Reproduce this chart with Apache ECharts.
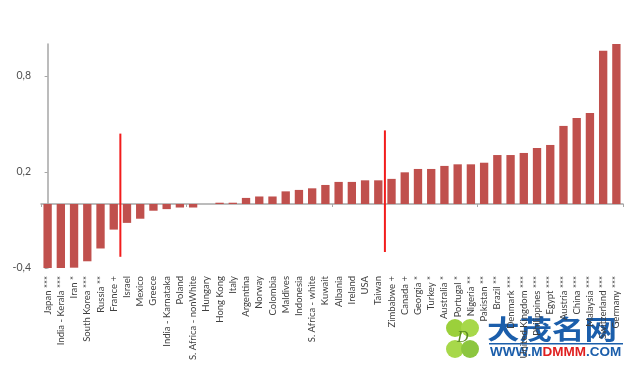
<!DOCTYPE html>
<html>
<head>
<meta charset="utf-8">
<script src="https://cdn.jsdelivr.net/npm/echarts@6/dist/echarts.min.js"></script>
<style>
html,body{margin:0;padding:0;background:#fff;}
#c{width:632px;height:375px;}
</style>
</head>
<body>
<div id="c"></div>
<script>
var categories = ['Japan ***','India - Kerala ***','Iran *','South Korea ***','Russia **','France +','Israel','Mexico','Greece','India - Karnataka','Poland','S. Africa - nonWhite','Hungary','Hong Kong','Italy','Argentina','Norway','Colombia','Maldives','Indonesia','S. Africa - white','Kuwait','Albania','Ireland','USA','Taiwan','Zimbabwe +','Canada +','Georgia *','Turkey *','Australia *','Portugal *','Nigeria **','Pakistan **','Brazil **','Denmark ***','United Kingdom ***','Philippines ***','Egypt ***','Austria ***','China ***','Malaysia ***','Switzerland ***','Germany ***'];
var values = [-0.40,-0.40,-0.398,-0.358,-0.278,-0.16,-0.118,-0.092,-0.042,-0.032,-0.022,-0.022,0.0,0.008,0.008,0.038,0.047,0.047,0.079,0.088,0.098,0.119,0.138,0.138,0.148,0.148,0.157,0.198,0.219,0.219,0.238,0.248,0.248,0.258,0.306,0.306,0.319,0.35,0.369,0.488,0.538,0.569,0.958,1.0];
var yTicks = [-0.4, 0.2, 0.8];
var dividerAfter = ['France +', 'Taiwan'];
var dividerTop = [0.44, 0.46];
var dividerBottom = [-0.33, -0.30];

var chart = echarts.init(document.getElementById('c'), null, {renderer:'canvas'});
var FONT = 'Lato, "Liberation Sans", sans-serif';
var axisGray = '#a6a6a6';

var dividerSeries = dividerAfter.map(function(name, i){
  var pos = categories.indexOf(name) + 0.5;
  return {
    type:'line', xAxisIndex:2, yAxisIndex:0, symbol:'none', silent:true,
    lineStyle:{color:'#f21c1c', width:2},
    data:[[pos, dividerTop[i]],[pos, dividerBottom[i]]],
    z:5
  };
});

chart.setOption({
  animation:false,
  backgroundColor:'#ffffff',
  grid:{left:41, right:9, top:44, bottom:107, containLabel:false},
  xAxis:[
    {type:'category', data:categories, position:'bottom',
     axisLine:{onZero:true, lineStyle:{color:axisGray, width:1.5}},
     axisTick:{show:true, length:3, lineStyle:{color:axisGray}},
     axisLabel:{show:false}, splitLine:{show:false}},
    {type:'category', data:categories, position:'bottom',
     axisLine:{show:false, onZero:false}, axisTick:{show:false},
     axisLabel:{show:true, interval:0, rotate:90, margin:8, fontSize:9.5, color:'#404040', fontFamily:FONT},
     splitLine:{show:false}},
    {type:'value', min:-0.5, max:categories.length-0.5, show:false, position:'top'}
  ],
  yAxis:{type:'value', min:-0.4, max:1.0, interval:0.6,
    axisLine:{show:true, lineStyle:{color:axisGray, width:1.5}},
    axisTick:{show:true, length:3, customValues:yTicks, lineStyle:{color:axisGray}},
    axisLabel:{customValues:yTicks, margin:10, fontSize:10.5, color:'#505050', fontFamily:FONT,
      formatter:function(v){return String(Math.round(v*10)/10).replace('.', ',');}},
    splitLine:{show:false}},
  series:[
    {type:'bar', xAxisIndex:0, data:values, barCategoryGap:'37%',
     itemStyle:{color:'#C0504D'}}
  ].concat(dividerSeries),
  graphic:[
    {type:'group', left:446, top:319, children:[
      {type:'circle', shape:{cx:9, cy:10, r:9}, style:{fill:'#9bd03b'}},
      {type:'circle', shape:{cx:24, cy:10, r:9}, style:{fill:'#a7d84a'}},
      {type:'circle', shape:{cx:9, cy:31, r:9}, style:{fill:'#a7d84a'}},
      {type:'circle', shape:{cx:24, cy:31, r:9}, style:{fill:'#8cc63f'}},
      {type:'text', x:11, y:13, style:{text:'D', font:'italic 15px "DejaVu Serif"', fill:'#5a8a20'}}
    ]},
    {type:'text', x:487, y:316, scaleX:1.25, style:{text:'大茂名网', font:'bold 26px "Noto Sans CJK SC"', fill:'#1b5eab'}},
    {type:'rect', shape:{x:489, y:343, width:134, height:1.5}, style:{fill:'#1b5eab'}},
    {type:'text', x:490, y:345, style:{
      text:'{b|WWW.M}{r|DMMM}{b|.COM}',
      rich:{b:{fill:'#1b5eab', font:'bold 13.5px "Liberation Sans"'}, r:{fill:'#e02020', font:'bold 13.5px "Liberation Sans"'}}
    }}
  ]
});
</script>
</body>
</html>
